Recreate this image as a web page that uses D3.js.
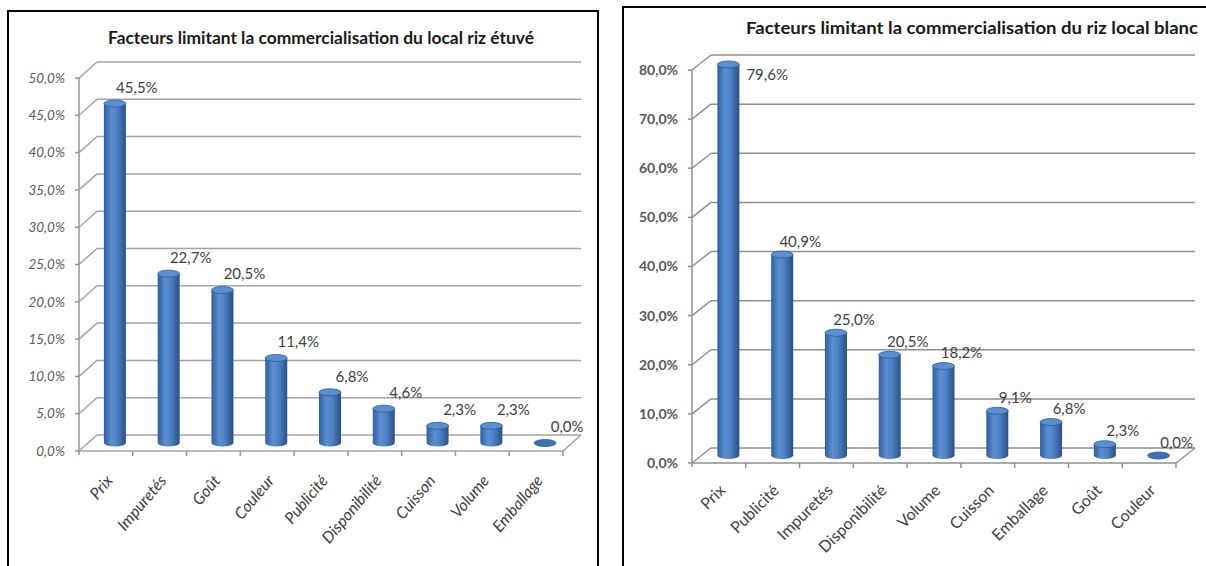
<!DOCTYPE html>
<html>
<head>
<meta charset="utf-8">
<script src="https://cdn.jsdelivr.net/npm/d3@7"></script>
<style>
  body { margin: 0; background: #fff; }
  svg { display: block; font-family: Lato, "Open Sans", sans-serif; }
</style>
</head>
<body>
<svg width="1206" height="566"></svg>
<script>
// Data
const leftTitle = "Facteurs limitant la commercialisation du local riz étuvé";
const leftCategories = ["Prix", "Impuretés", "Goût", "Couleur", "Publicité", "Disponibilité", "Cuisson", "Volume", "Emballage"];
const leftValues = [45.5, 22.7, 20.5, 11.4, 6.8, 4.6, 2.3, 2.3, 0.0];
const leftTicks = [0, 5, 10, 15, 20, 25, 30, 35, 40, 45, 50];

const rightTitle = "Facteurs limitant la commercialisation du riz local blanc";
const rightCategories = ["Prix", "Publicité", "Impuretés", "Disponibilité", "Volume", "Cuisson", "Emballage", "Goût", "Couleur"];
const rightValues = [79.6, 40.9, 25.0, 20.5, 18.2, 9.1, 6.8, 2.3, 0.0];
const rightTicks = [0, 10, 20, 30, 40, 50, 60, 70, 80];

const svg = d3.select("svg");
const fmt = v => v.toFixed(1).replace(".", ",") + "%";

// Cylinder shading, Excel 2007 style
const defs = svg.append("defs");
const grad = defs.append("linearGradient").attr("id", "cyl").attr("x1", "0%").attr("x2", "100%");
grad.append("stop").attr("offset", "0%").attr("stop-color", "#2f5f9c");
grad.append("stop").attr("offset", "35%").attr("stop-color", "#5b8fd2");
grad.append("stop").attr("offset", "60%").attr("stop-color", "#4f82c4");
grad.append("stop").attr("offset", "100%").attr("stop-color", "#284f86");

function drawChart(cfg, title, categories, values, ticks) {
    const g = svg.append("g");

    // panel frame
    g.append("rect")
        .attr("x", cfg.box[0]).attr("y", cfg.box[1])
        .attr("width", cfg.box[2]).attr("height", cfg.box[3])
        .attr("fill", "#fff").attr("stroke", "#000").attr("stroke-width", 2);

    g.append("text")
        .attr("x", cfg.titleX).attr("y", cfg.titleY)
        .attr("text-anchor", "middle").attr("dy", "0.35em")
        .attr("font-size", cfg.titleSize).attr("font-weight", "bold")
        .attr("textLength", cfg.titleLen).attr("lengthAdjust", "spacingAndGlyphs")
        .attr("fill", "#1a1a1a")
        .text(title);

    const y = d3.scaleLinear().domain([0, d3.max(ticks)]).range([cfg.y0, cfg.yTop]);
    const x = d3.scaleBand().domain(categories).range([cfg.x0, cfg.x1]);
    const dx = cfg.depth[0], dy = cfg.depth[1];
    const bw = x.bandwidth();

    // side wall diagonals + back wall gridlines
    const grid = g.append("g").attr("stroke", cfg.gridColor).attr("stroke-width", 1.5).attr("fill", "none");
    grid.selectAll(".diag").data(ticks).enter().append("line")
        .attr("x1", cfg.x0).attr("y1", d => y(d))
        .attr("x2", cfg.x0 + dx).attr("y2", d => y(d) + dy);
    grid.selectAll(".hl").data(ticks).enter().append("line")
        .attr("x1", cfg.x0 + dx).attr("y1", d => y(d) + dy)
        .attr("x2", cfg.x1 + dx).attr("y2", d => y(d) + dy);
    // floor front edge and right edge
    grid.append("line").attr("x1", cfg.x0).attr("y1", cfg.y0).attr("x2", cfg.x1).attr("y2", cfg.y0);
    grid.append("line").attr("x1", cfg.x1).attr("y1", cfg.y0).attr("x2", cfg.x1 + dx).attr("y2", cfg.y0 + dy);

    // y axis
    const ax = g.append("g").attr("stroke", cfg.axisColor).attr("stroke-width", 1.5);
    ax.append("line").attr("x1", cfg.x0).attr("y1", cfg.yTop).attr("x2", cfg.x0).attr("y2", cfg.y0 + 4);
    ax.selectAll(".yt").data(ticks).enter().append("line")
        .attr("x1", cfg.x0 - 4).attr("x2", cfg.x0)
        .attr("y1", d => y(d)).attr("y2", d => y(d));
    // x ticks at band boundaries
    ax.selectAll(".xt").data(categories.slice(1).concat(["__end"])).enter().append("line")
        .attr("x1", d => d === "__end" ? cfg.x1 : x(d))
        .attr("x2", d => d === "__end" ? cfg.x1 : x(d))
        .attr("y1", cfg.y0).attr("y2", cfg.y0 + 5);

    g.selectAll(".ylab").data(ticks).enter().append("text")
        .attr("x", cfg.x0 - 14).attr("y", d => y(d))
        .attr("dy", "0.35em").attr("text-anchor", "end")
        .attr("font-size", cfg.yFont).attr("font-style", cfg.italic ? "italic" : "normal")
        .attr("font-weight", cfg.yBold ? "bold" : "normal")
        .attr("fill", "#595959")
        .text(d => fmt(d));

    // cylinders sit at mid-depth
    const rx = cfg.barW / 2, ry = 3.5;
    const cx = d => x(d.c) + bw / 2 + dx / 2;
    const base = cfg.y0 + dy / 2;
    const topY = d => y(d.v) + dy / 2;
    const data = categories.map((c, i) => ({ c: c, v: values[i] }));

    const bars = g.selectAll(".bar").data(data).enter().append("g");
    bars.filter(d => d.v > 0).append("path")
        .attr("d", d => {
            const l = cx(d) - rx, r = cx(d) + rx;
            return `M${l},${topY(d)} L${l},${base} A${rx},${ry} 0 0 0 ${r},${base} L${r},${topY(d)} Z`;
        })
        .attr("fill", "url(#cyl)");
    bars.append("ellipse")
        .attr("cx", cx).attr("cy", topY)
        .attr("rx", rx).attr("ry", ry)
        .attr("fill", d => d.v > 0 ? "#5c8fcf" : "#3f72b5")
        .attr("stroke", "#2f5c96").attr("stroke-width", 0.8);

    // value labels, moved beside the bar when they would leave the plot
    g.selectAll(".vlab").data(data).enter().append("text")
        .each(function (d) {
            let lx = cx(d) + cfg.vOff[0], ly = topY(d) + cfg.vOff[1], anchor = "middle";
            if (ly < y.range()[1] + dy + 10) {
                lx = cx(d) + rx + 7; ly = y.range()[1] + 5; anchor = "start";
            }
            d3.select(this).attr("x", lx).attr("y", ly).attr("text-anchor", anchor);
        })
        .attr("dy", "0.35em")
        .attr("font-size", cfg.vFont).attr("fill", "#404040")
        .text(d => fmt(d.v));

    // category labels
    g.selectAll(".xlab").data(categories).enter().append("text")
        .attr("transform", d => `translate(${x(d) + bw / 2 + 4},${cfg.y0 + cfg.xLabOff}) rotate(${cfg.xAngle})`)
        .attr("text-anchor", "end").attr("dy", "0.3em")
        .attr("font-size", cfg.xFont).attr("font-style", cfg.italic ? "italic" : "normal")
        .attr("fill", "#404040")
        .text(d => d);
}

drawChart({
    box: [8, 11, 590, 570], titleX: 321, titleY: 38, titleSize: 16.5, titleLen: 426,
    x0: 79, x1: 563, y0: 451, yTop: 78, depth: [18, -16], barW: 22,
    gridColor: "#a3a3a3", axisColor: "#969696",
    yFont: 13.5, yBold: false, vFont: 15, vOff: [22, -16], xFont: 16, xAngle: -50, xLabOff: 27, italic: true
}, leftTitle, leftCategories, leftValues, leftTicks);

drawChart({
    box: [623, 7, 600, 575], titleX: 972, titleY: 28, titleSize: 17, titleLen: 452,
    x0: 692, x1: 1176, y0: 463, yTop: 70, depth: [19, -15], barW: 22,
    gridColor: "#8f8f8f", axisColor: "#8f8f8f",
    yFont: 14, yBold: true, vFont: 15, vOff: [18, -13], xFont: 16, xAngle: -45, xLabOff: 25, italic: false
}, rightTitle, rightCategories, rightValues, rightTicks);
</script>
</body>
</html>
